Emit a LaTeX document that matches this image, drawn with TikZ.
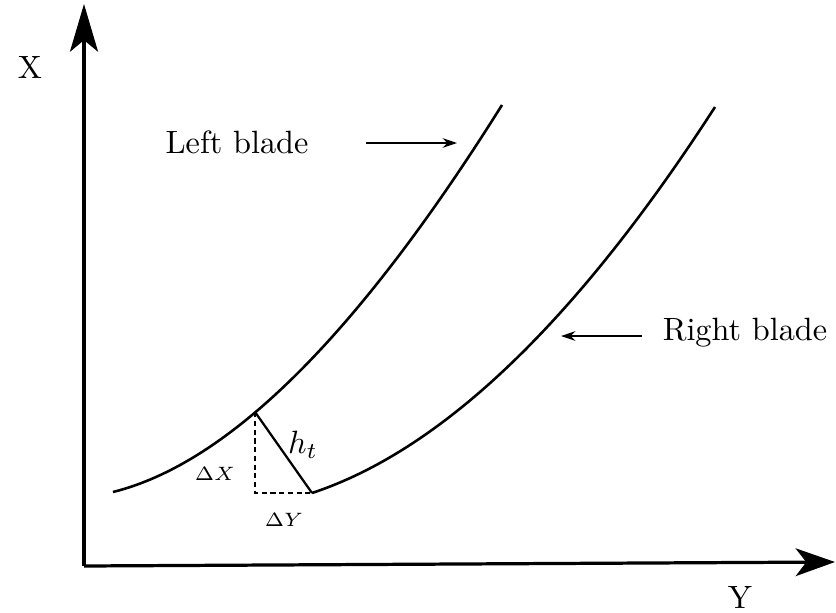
\documentclass[tikz,border=0pt]{standalone}
\usetikzlibrary{arrows.meta}
\begin{document}
\begin{tikzpicture}[x=0.31pt,y=-0.31pt,
  axis/.style={line width=1pt},
  blade/.style={line width=0.8pt},
  thin arrow/.style={line width=0.4pt,-{Stealth[length=4.5pt,width=3pt,inset=1.5pt]}},
  dashline/.style={line width=0.55pt,dash pattern=on 1.6pt off 1.1pt},
  lbl/.style={inner sep=0pt}]
\useasboundingbox (0,0) rectangle (836,612);
% axes
\coordinate (O) at (84,566);
\coordinate (Xtip) at (84,4);
\coordinate (Ytip) at (835,562);
\draw[axis,-{Stealth[length=14.8pt,width=8.7pt,inset=3.6pt]}] (O) -- (Xtip);
\draw[axis,-{Stealth[length=12.2pt,width=8.6pt,inset=3.3pt]}] (O) -- (Ytip);
\node[lbl] (xl) at (30,67) {X};
\node[lbl] (yl) at (740,597) {Y};
% blades
\coordinate (L0) at (113,492);
\coordinate (L1) at (502,105);
\coordinate (B) at (312,493);
\coordinate (R1) at (715,107);
\draw[blade] (L0) .. controls (229.7,462.9) and (358.7,333.7) .. coordinate[pos=0.39] (A) (L1);
\draw[blade] (B) .. controls (442,450) and (576.3,321.7) .. (R1);
% throat
\coordinate (C) at (A |- B);
\draw[line width=0.7pt] (A) -- (B);
\draw[dashline] (A) -- (C) -- (B);
\node[lbl] (ht) at (303,445) {$h_t$};
\node[lbl,font=\fontsize{6.5}{8}\selectfont] (dx) at (215,474) {$\Delta X$};
\node[lbl,font=\fontsize{6.5}{8}\selectfont] (dy) at (284,520) {$\Delta Y$};
% labels
\node[lbl] (lb) at (237,142) {Left blade};
\node[lbl] (rb) at (745,333) {Right blade};
\coordinate (la1) at (366,143);
\coordinate (la2) at (457,143);
\coordinate (ra1) at (642,336);
\coordinate (ra2) at (561,336);
\draw[thin arrow] (la1) -- (la2);
\draw[thin arrow] (ra1) -- (ra2);
\end{tikzpicture}
\end{document}
